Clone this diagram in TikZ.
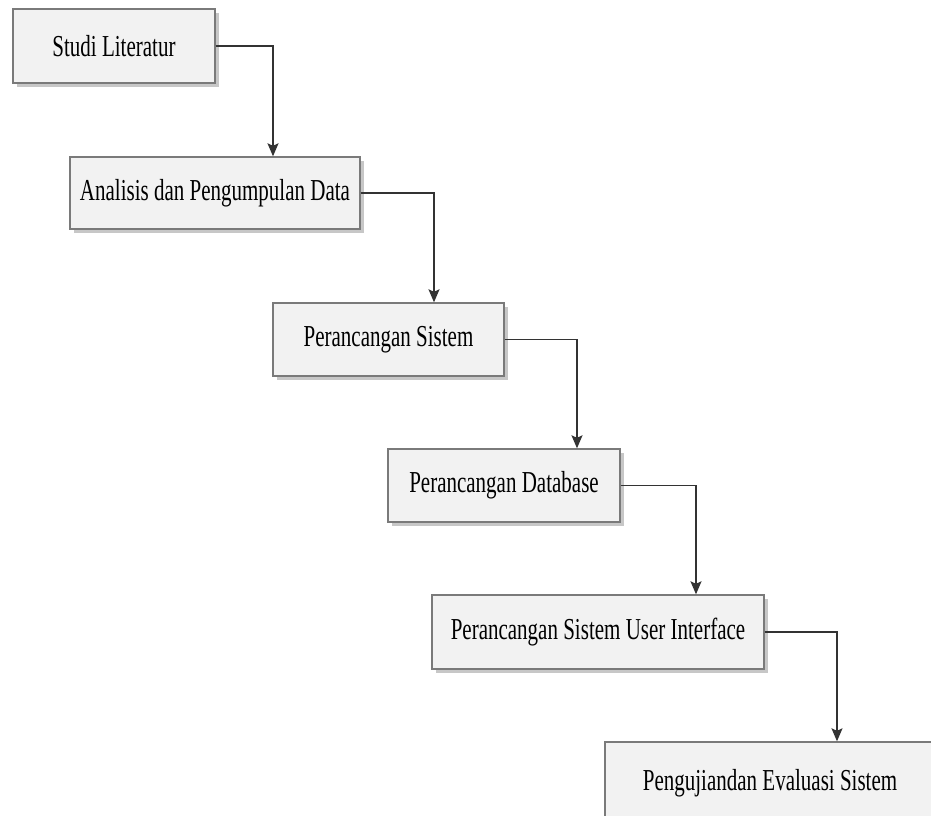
\documentclass[tikz,border=0pt]{standalone}
\usepackage{fontspec}
\setmainfont{Liberation Serif}
\usetikzlibrary{shadows,arrows.meta}
\tikzset{
  stagebox/.style={draw=black!52, line width=1.4pt, fill=black!5, rectangle,
    inner sep=0pt, font=\fontsize{21}{25}\selectfont,
    drop shadow={shadow xshift=3.5pt, shadow yshift=-3.5pt, fill=black!22, opacity=1}},
  flow/.style={draw=black!80, line width=1.4pt, -{Stealth[length=13pt,width=11pt,inset=2.5pt]}},
}
\newcommand{\tall}[1]{\scalebox{1}[1.45]{#1}}
\begin{document}
\begin{tikzpicture}[x=1pt,y=-1pt]
\useasboundingbox (0,0) rectangle (931,815);
\node[stagebox, minimum width=202pt, minimum height=74pt] (b1) at (114,46) {\tall{Studi Literatur}};
\node[stagebox, minimum width=290pt, minimum height=72pt] (b2) at (215,193) {\tall{Analisis dan Pengumpulan Data}};
\node[stagebox, minimum width=231pt, minimum height=73pt] (b3) at (388.5,339.5) {\tall{Perancangan Sistem}};
\node[stagebox, minimum width=232pt, minimum height=73pt] (b4) at (504,485.5) {\tall{Perancangan Database}};
\node[stagebox, minimum width=332pt, minimum height=74pt] (b5) at (598,632) {\tall{Perancangan Sistem User Interface}};
\node[stagebox, minimum width=330pt, minimum height=82pt] (b6) at (770,783) {\tall{Pengujiandan Evaluasi Sistem}};
\coordinate (x2) at (273,0);
\coordinate (x3) at (434,0);
\coordinate (x4) at (577,0);
\coordinate (x5) at (696,0);
\coordinate (x6) at (837,0);
\draw[flow] (b1.east) -| (b2.north -| x2);
\draw[flow] (b2.east) -| (b3.north -| x3);
\draw[flow] (b3.east) -| (b4.north -| x4);
\draw[flow] (b4.east) -| (b5.north -| x5);
\draw[flow] (b5.east) -| (b6.north -| x6);
\end{tikzpicture}
\end{document}
